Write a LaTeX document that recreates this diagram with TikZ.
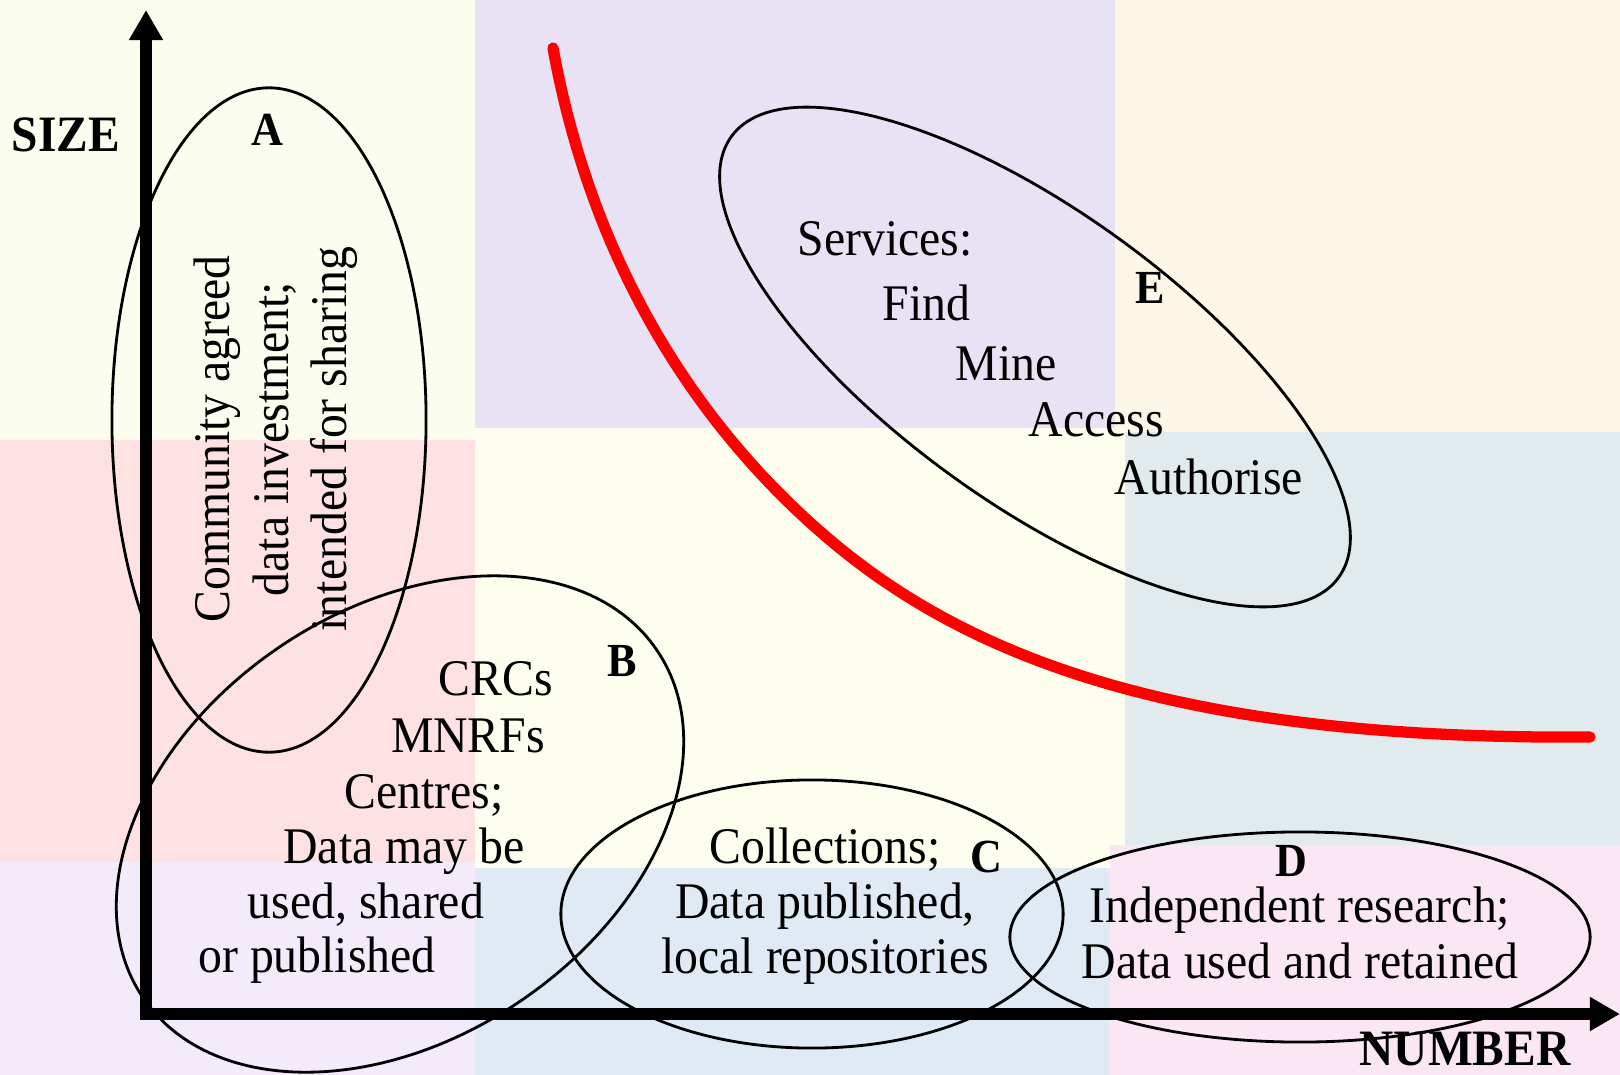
\documentclass[tikz,border=0pt]{standalone}
\usepackage{fontspec}
\setmainfont{Liberation Serif}[FakeStretch=0.93]
\usetikzlibrary{shapes.geometric,arrows.meta}

\definecolor{bgtopleft}{HTML}{FBFDEE}
\definecolor{bgtopmid}{HTML}{E9E1F4}
\definecolor{bgtopright}{HTML}{FEF6E6}
\definecolor{bgmidleft}{HTML}{FDE1E3}
\definecolor{bgcentre}{HTML}{FEFEEE}
\definecolor{bgmidright}{HTML}{E1EAEC}
\definecolor{bgbotleft}{HTML}{F3EAFA}
\definecolor{bgbotmid}{HTML}{E0EAF4}
\definecolor{bgbotright}{HTML}{FBE6F4}

\tikzstyle{region} = [draw, ellipse, line width=0.8pt, inner sep=0pt]
\tikzstyle{axis} = [line width=3.4pt, line join=miter]
\tikzstyle{tag} = [font=\bfseries\fontsize{13.5}{14}\selectfont, inner sep=0pt]
\tikzstyle{axislabel} = [font=\bfseries\fontsize{14.5}{15}\selectfont, inner sep=0pt]
\tikzstyle{txt} = [font=\fontsize{14.6}{16}\selectfont, inner sep=0pt]
\tikzstyle{frontier} = [red, line width=3.2pt, line cap=round, line join=round]

\begin{document}
\begin{tikzpicture}[x=0.01cm, y=-0.01cm, >={Triangle[length=3mm,width=3.2mm]}]
\useasboundingbox (0,0) rectangle (1620,1075);

    % pastel background patches
    \fill[bgtopleft] (0,0) rectangle (475,440);
    \fill[bgtopmid] (475,0) rectangle (1115,428);
    \fill[bgtopright] (1115,0) rectangle (1620,432);
    \fill[bgmidleft] (0,440) rectangle (475,862);
    \fill[bgcentre] (475,428) rectangle (1125,868);
    \fill[bgmidright] (1125,432) rectangle (1620,845);
    \fill[bgbotleft] (0,862) rectangle (475,1075);
    \fill[bgbotmid] (475,868) rectangle (1110,1075);
    \fill[bgbotright] (1110,845) rectangle (1620,1075);

    % the regions
    \node [region, minimum width=3.14cm, minimum height=6.64cm] (regA) at (269,420) {};
    \node [region, minimum width=6.2cm, minimum height=4.28cm, rotate=34] (regB) at (400,824) {};
    \node [region, minimum width=5.02cm, minimum height=2.68cm] (regC) at (812,914) {};
    \node [region, minimum width=5.8cm, minimum height=2.1cm] (regD) at (1300,937) {};
    \node [region, minimum width=7.5cm, minimum height=2.9cm, rotate=-36] (regE) at (1035,357) {};

    % axes
    \coordinate (sizeTip) at (146,10);
    \coordinate (numberTip) at (1620,1014);
    \draw [axis,<->] (sizeTip) |- (numberTip);
    \node [axislabel] (size) at (66,135) {SIZE};
    \node [axislabel] (number) at (1465,1049) {NUMBER};

    % the red frontier
    \draw [frontier] (553,48) .. controls (593,268) and (700,430) .. (830,540)
        .. controls (980,667) and (1200,740) .. (1590,737);

    % A
    \node [tag] (tagA) at (267,130) {A};
    \node [txt, rotate=90, anchor=base] (aLine1) at (229,439) {Community agreed};
    \node [txt, rotate=90, anchor=base] (aLine2) at (288,439) {data investment;};
    \node [txt, rotate=90, anchor=base] (aLine3) at (346,439) {intended for sharing};

    % B
    \node [tag] (tagB) at (622,661) {B};
    \node [txt, anchor=base] (crcs) at (496,695) {CRCs};
    \node [txt, anchor=base] (mnrfs) at (468,752) {MNRFs};
    \node [txt, anchor=base] (centres) at (424,808) {Centres;};
    \node [txt, anchor=base] (bLine4) at (404,863) {Data may be};
    \node [txt, anchor=base] (bLine5) at (366,918) {used, shared};
    \node [txt, anchor=base] (bLine6) at (317,972) {or published};

    % C
    \node [tag] (tagC) at (986,857) {C};
    \node [txt, anchor=base] (cLine1) at (825,863) {Collections;};
    \node [txt, anchor=base] (cLine2) at (825,918) {Data published,};
    \node [txt, anchor=base] (cLine3) at (825,973) {local repositories};

    % D
    \node [tag] (tagD) at (1291,861) {D};
    \node [txt, anchor=base] (dLine1) at (1300,922) {Independent research;};
    \node [txt, anchor=base] (dLine2) at (1300,978) {Data used and retained};

    % E
    \node [tag] (tagE) at (1150,288) {E};
    \node [txt, anchor=base west] (services) at (797,255) {Services:};
    \node [txt, anchor=base west] (find) at (882,320) {Find};
    \node [txt, anchor=base west] (mine) at (955,380) {Mine};
    \node [txt, anchor=base west] (access) at (1028,436) {Access};
    \node [txt, anchor=base west] (authorise) at (1114,494) {Authorise};

\end{tikzpicture}
\end{document}
